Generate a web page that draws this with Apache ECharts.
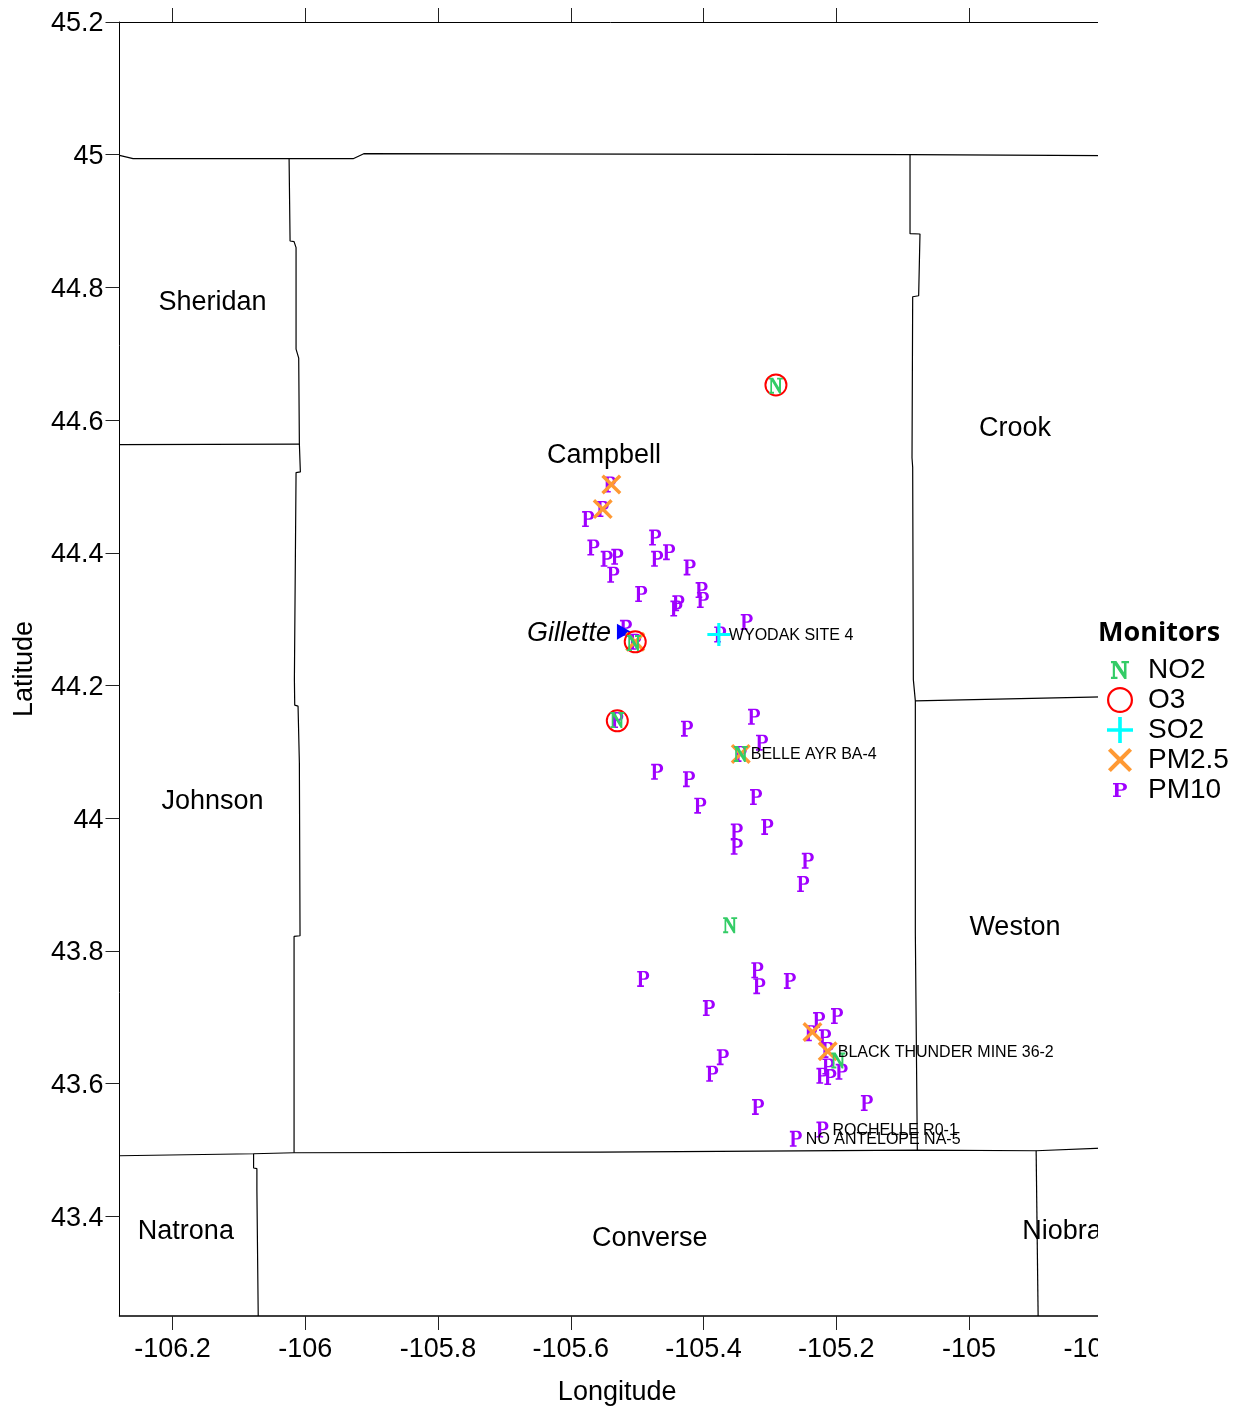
<!DOCTYPE html>
<html>
<head>
<meta charset="utf-8">
<style>html,body{margin:0;padding:0;background:#fff}#c{width:1244px;height:1408px}</style>
<script src="https://cdn.jsdelivr.net/npm/echarts@6/dist/echarts.min.js"></script>
</head>
<body>
<div id="c"></div>
<script>
// ---- axis ticks ----
const lonTicks = [-106.2, -106, -105.8, -105.6, -105.4, -105.2, -105, -104.8];
const latTicks = [43.4, 43.6, 43.8, 44, 44.2, 44.4, 44.6, 44.8, 45, 45.2];

// ---- monitors [lon, lat] ----
const no2 = [[-105.291,44.652],[-105.505,44.264],[-105.530,44.148],[-105.344,44.097],[-105.360,43.839],[-105.197,43.635]];
const o3 = [[-105.291,44.653],[-105.503,44.266],[-105.530,44.147]];
const so2 = [[-105.377,44.277]];
const pm25 = [[-105.539,44.503],[-105.552,44.466],[-105.344,44.097],[-105.236,43.678],[-105.213,43.649],[-105.503,44.266]];
const pm10 = [
 [-105.541,44.503],[-105.552,44.466],[-105.574,44.451],[-105.566,44.408],[-105.546,44.391],[-105.530,44.394],
 [-105.536,44.367],[-105.473,44.423],[-105.452,44.401],[-105.470,44.391],[-105.421,44.378],[-105.403,44.344],
 [-105.401,44.329],[-105.494,44.338],[-105.438,44.324],[-105.441,44.316],[-105.335,44.296],[-105.375,44.277],
 [-105.517,44.287],[-105.503,44.266],[-105.530,44.148],[-105.324,44.153],[-105.312,44.114],[-105.425,44.135],
 [-105.344,44.097],[-105.470,44.070],[-105.422,44.059],[-105.321,44.032],[-105.405,44.019],[-105.304,43.987],
 [-105.350,43.980],[-105.350,43.957],[-105.243,43.936],[-105.250,43.901],[-105.491,43.758],[-105.319,43.771],
 [-105.316,43.747],[-105.270,43.755],[-105.392,43.714],[-105.226,43.696],[-105.199,43.702],[-105.238,43.676],
 [-105.217,43.670],[-105.213,43.651],[-105.371,43.640],[-105.387,43.615],[-105.212,43.626],[-105.221,43.612],
 [-105.209,43.610],[-105.192,43.618],[-105.318,43.565],[-105.154,43.571],[-105.221,43.531],[-105.261,43.517]
];
const gillette = [[-105.520,44.281]];

// ---- named sites and counties ----
const sites = [
 {name:'WYODAK SITE 4', value:[-105.377,44.277]},
 {name:'BELLE AYR BA-4', value:[-105.344,44.097]},
 {name:'BLACK THUNDER MINE 36-2', value:[-105.213,43.649]},
 {name:'ROCHELLE R0-1', value:[-105.221,43.531]},
 {name:'NO ANTELOPE NA-5', value:[-105.261,43.517]}
];
const counties = [
 {name:'Sheridan', value:[-106.140,44.780]},
 {name:'Campbell', value:[-105.550,44.549]},
 {name:'Crook', value:[-104.931,44.590]},
 {name:'Johnson', value:[-106.140,44.029]},
 {name:'Weston', value:[-104.931,43.839]},
 {name:'Natrona', value:[-106.180,43.380]},
 {name:'Converse', value:[-105.481,43.369]},
 {name:'Niobrara', value:[-104.842,43.380]}
];

// ---- county boundaries [lon, lat] ----
const northEdge = [[-106.280,44.999],[-106.2595,44.994],[-105.928,44.994],[-105.912,45.0015],[-105.089,45.000],[-104.800,44.9985]];
const westCampbell = [[-106.0245,44.994],[-106.023,44.870],[-106.017,44.869],[-106.014,44.860],[-106.014,44.707],[-106.010,44.6935],[-106.009,44.564],[-106.0075,44.522],[-106.014,44.521],[-106.0165,44.209],[-106.016,44.1705],[-106.011,44.169],[-106.009,44.0835],[-106.008,43.823],[-106.017,43.822],[-106.017,43.496]];
const sheridanSouth = [[-106.280,44.563],[-106.009,44.564]];
const southEdge = [[-106.280,43.4915],[-106.078,43.4945],[-106.017,43.496],[-105.556,43.497],[-105.078,43.500],[-104.899,43.499],[-104.800,43.503]];
const natronaEast = [[-106.078,43.4945],[-106.078,43.473],[-106.073,43.472],[-106.073,43.440],[-106.071,43.25]];
const niobraraWest = [[-104.899,43.499],[-104.896,43.25]];
const eastCampbell = [[-105.089,45.000],[-105.089,44.881],[-105.074,44.8805],[-105.076,44.7875],[-105.085,44.786],[-105.086,44.543],[-105.085,44.529],[-105.082,44.528],[-105.084,44.209],[-105.081,44.177],[-105.079,44.174],[-105.081,43.828],[-105.078,43.827],[-105.078,43.500]];
const crookSouth = [[-105.081,44.177],[-104.800,44.183]];
const boundaries = [northEdge, westCampbell, sheridanSouth, southEdge, natronaEast, niobraraWest, eastCampbell, crookSouth];

// ---- marker shapes ----
const GLYPH_N = 'M0 0H30L72 62V12H58V0H100V12H86V100H74L22 24V88H36V100H0V88H10V12H0Z';
const GLYPH_P = 'M0 0H62C86 0 100 12 100 28C100 45 84 55 62 55H40V90H56V100H0V90H14V10H0ZM40 8V47H52C66 47 74 40 74 28C74 16 66 8 52 8Z';
const GLYPH_O = 'M0 50A50 50 0 1 1 100 50A50 50 0 1 1 0 50ZM8.5 50A41.5 41.5 0 1 0 91.5 50A41.5 41.5 0 1 0 8.5 50Z';
const GLYPH_PLUS = 'M43 0H57V43H100V57H57V100H43V57H0V43H43Z';
const GLYPH_X = 'M0 12L12 0L50 38L88 0L100 12L62 50L100 88L88 100L50 62L12 100L0 88L38 50Z';
const PAD_N = 'M-15 -22h0M115 122h0';
const PAD_P = 'M-43 -4h0M143 104h0';
const PAD_X = 'M-4 -4h0M104 104h0';

const FONT = '"Liberation Sans", Arial, sans-serif';

function monitor(name, data, glyph, size, color, z) {
  return {
    name, type:'scatter', data, symbol:'path://'+glyph, symbolSize:size, z, silent:true,
    itemStyle:{color, opacity:1}, emphasis:{disabled:true}
  };
}

const option = {
  animation:false,
  backgroundColor:'#fff',
  grid:{left:119.5, top:22, width:982.35, height:1294, containLabel:false, outerBoundsMode:'none'},
  xAxis:[{
    type:'value', position:'bottom', min:-106.28, max:-104.8,
    name:'Longitude', nameLocation:'middle', nameGap:63,
    nameTextStyle:{fontFamily:FONT, fontSize:27, color:'#000', padding:[0,0,0,13]},
    axisLine:{show:true, onZero:false, lineStyle:{color:'#000', width:1.5}},
    axisTick:{show:true, length:14, customValues:lonTicks, lineStyle:{color:'#222', width:1}},
    axisLabel:{show:true, margin:20, customValues:lonTicks, fontFamily:FONT, fontSize:27, color:'#000'},
    splitLine:{show:false}
  },{
    type:'value', position:'top', min:-106.28, max:-104.8,
    axisLine:{show:true, onZero:false, lineStyle:{color:'#000', width:1}},
    axisTick:{show:true, length:14, customValues:lonTicks, lineStyle:{color:'#222', width:1}},
    axisLabel:{show:false}, splitLine:{show:false}
  }],
  yAxis:[{
    type:'value', position:'left', min:43.25, max:45.2,
    name:'Latitude', nameLocation:'middle', nameGap:81, nameRotate:90,
    nameTextStyle:{fontFamily:FONT, fontSize:27, color:'#000'},
    axisLine:{show:true, onZero:false, lineStyle:{color:'#000', width:1}},
    axisTick:{show:true, length:14, customValues:latTicks, lineStyle:{color:'#222', width:1}},
    axisLabel:{show:true, margin:16, customValues:latTicks, formatter:'{t|{value}}',
      rich:{t:{padding:[4,0,0,0], fontFamily:FONT, fontSize:27, color:'#000'}}},
    splitLine:{show:false}
  }],
  title:{text:'Monitors', left:1098, top:620, z:200, padding:0,
    textStyle:{fontFamily:'"Open Sans", sans-serif', fontWeight:'bold', fontSize:27, color:'#000'}},
  legend:{
    z:200, orient:'vertical', left:1107, top:656, itemWidth:26, itemHeight:26, itemGap:2,
    selectedMode:false, padding:0,
    textStyle:{fontFamily:FONT, fontSize:28, color:'#000', padding:[0,0,0,10]},
    data:[
      {name:'NO2', icon:'path://'+GLYPH_N+PAD_N},
      {name:'O3', icon:'path://'+GLYPH_O},
      {name:'SO2', icon:'path://'+GLYPH_PLUS},
      {name:'PM2.5', icon:'path://'+GLYPH_X+PAD_X},
      {name:'PM10', icon:'path://'+GLYPH_P+PAD_P}
    ]
  },
  graphic:[{type:'rect', z:100, silent:true, shape:{x:1098,y:0,width:146,height:1408}, style:{fill:'#fff'}}],
  series:[
    ...boundaries.map((b,i)=>({
      name:'boundary'+i, type:'line', data:b, showSymbol:false, symbol:'none', silent:true, z:1,
      lineStyle:{color:'#000', width:1.2}
    })),
    monitor('PM10', pm10, GLYPH_P, [12,16], '#a000ff', 2),
    {name:'Gillette', type:'scatter', data:gillette, symbol:'triangle', symbolSize:[16,14], symbolRotate:-90, z:3, silent:true,
      itemStyle:{color:'#0000ff', opacity:1},
      label:{show:true, position:'left', distance:6, offset:[0,2], formatter:'Gillette', fontFamily:FONT, fontStyle:'italic', fontSize:27, color:'#000'}},
    monitor('PM2.5', pm25, GLYPH_X, [20,20], '#ff9933', 3),
    monitor('SO2', so2, GLYPH_PLUS, [23,23], '#00ffff', 4),
    monitor('O3', o3, GLYPH_O, [23,23], '#ff0000', 5),
    monitor('NO2', no2, GLYPH_N, [14,16], '#33cc66', 6),
    {name:'sites', type:'scatter', data:sites, symbol:'circle', symbolSize:0, z:7, silent:true,
      itemStyle:{color:'transparent', opacity:1},
      label:{show:true, position:'right', distance:10, offset:[0,1], formatter:'{b}', fontFamily:FONT, fontSize:16, color:'#000'}},
    {name:'counties', type:'scatter', data:counties, symbol:'circle', symbolSize:1, z:7, silent:true,
      itemStyle:{color:'transparent', opacity:1},
      label:{show:true, position:'inside', offset:[0,2], formatter:'{b}', fontFamily:FONT, fontSize:27, color:'#000'}}
  ]
};
const chart = echarts.init(document.getElementById('c'), null, {renderer:'canvas'});
chart.setOption(option);
</script>
</body>
</html>
